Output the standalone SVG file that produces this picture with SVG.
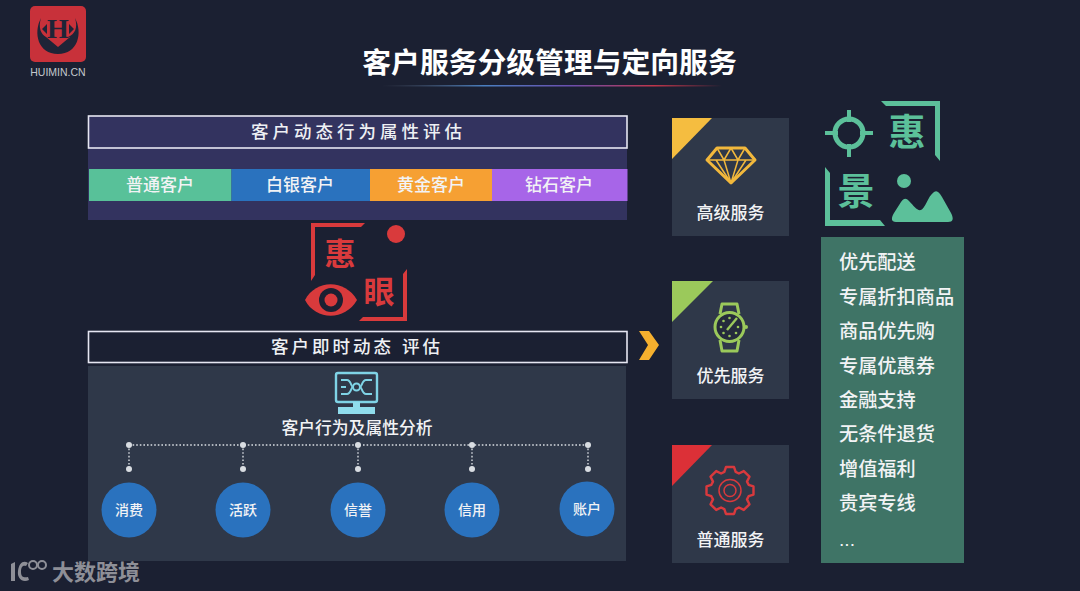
<svg xmlns="http://www.w3.org/2000/svg" width="1080" height="591" viewBox="0 0 1080 591">
<style>
text{font-family:"Liberation Sans","Noto Sans CJK SC",sans-serif;text-anchor:middle;fill:#f2f3f5}
.t18{font-size:17px;font-weight:500}
.hd{font-size:17.5px;fill:#eef0f4;font-weight:500}
.card{fill:#2f3849}
.lst{font-size:19.2px;text-anchor:start;font-weight:500}
.circ{fill:#2a72be}
.cl{font-size:14px;font-weight:500}
.dot{fill:#d9dde2}
.dl{stroke:#d9dde2;stroke-width:1.4;stroke-dasharray:1.6 2;fill:none}
.red{fill:#d93a3c}
.grn{fill:#5cc09a}
.big{font-weight:700;font-size:31px}
</style>
<defs>
<linearGradient id="ul" x1="0" x2="1" y1="0" y2="0">
<stop offset="0" stop-color="#5a6272" stop-opacity="0"/>
<stop offset=".3" stop-color="#4a7fc0"/>
<stop offset=".55" stop-color="#6a4fb0"/>
<stop offset=".8" stop-color="#c0354a"/>
<stop offset="1" stop-color="#c0354a" stop-opacity="0"/>
</linearGradient>
</defs>
<rect width="1080" height="591" fill="#1b2032"/>
<g id="logo">
<rect x="30" y="6" width="56" height="56" rx="5" fill="#c8313a"/>
<path d="M41 18C33 33 38 54 58 54C78 54 83 33 75 18C78 28 75 34 68 37L70 37L58 47L46 37C41 34 38 28 41 18Z" fill="#1f2437"/>
<path d="M42 29L47 24V34ZM74 29L69 24V34Z" fill="#1f2437"/>
<text x="58" y="38" font-size="28" style="font-family:'Liberation Serif',serif;fill:#1f2437" font-weight="700">H</text>
<text x="58" y="76" font-size="10.500" style="fill:#c4c8ce">HUIMIN.CN</text>
</g>
<g id="title">
<text x="549.500" y="73" font-size="28.800" font-weight="700" style="fill:#fff">客户服务分级管理与定向服务</text>
<rect x="382" y="85" width="340" height="1.500" fill="url(#ul)"/>
</g>
<g id="dynamic-panel">
<rect x="88" y="116" width="539" height="104" fill="#33335f"/>
<rect x="88.500" y="116" width="538.500" height="32" fill="#33335f" stroke="#e6e6f2" stroke-width="1.600"/>
<text x="358.500" y="138" class="hd" letter-spacing="4">客户动态行为属性评估</text>
</g>
<g id="tier-normal"><rect x="89" y="169" width="142.500" height="32" fill="#58c199"/><text x="160" y="191" class="t18">普通客户</text></g>
<g id="tier-silver"><rect x="231.500" y="169" width="138.500" height="32" fill="#2a72be"/><text x="300" y="191" class="t18">白银客户</text></g>
<g id="tier-gold"><rect x="370" y="169" width="122" height="32" fill="#f6a033"/><text x="431" y="191" class="t18">黄金客户</text></g>
<g id="tier-diamond"><rect x="492" y="169" width="135.500" height="32" fill="#a765e8"/><text x="559" y="191" class="t18">钻石客户</text></g>
<g id="huiyan">
<path d="M311 223H365L361 227H315V275L311 281Z" class="red"/>
<path d="M407 269V321H359L363 317H403V274Z" class="red"/>
<circle cx="396" cy="234" r="9" class="red"/>
<path d="M305 300C316 279 345 279 357 300C345 321 316 321 305 300Z" class="red"/>
<circle cx="331" cy="300" r="12" fill="#1b2032"/><circle cx="331" cy="300" r="6.500" class="red"/>
<text x="340" y="265" class="big" style="fill:#d93a3c">惠</text>
<text x="379" y="303" class="big" style="fill:#d93a3c">眼</text>
</g>
<g id="realtime-header">
<rect x="88.500" y="331.500" width="538.500" height="31" fill="#1b2032" stroke="#e6e6f2" stroke-width="1.600"/>
<text x="357" y="353" class="hd" letter-spacing="3">客户即时动态 评估</text>
</g>
<g id="analysis-panel">
<rect x="88" y="366" width="538" height="195" fill="#2f3849"/>
<g fill="none" stroke="#7fd3e6" stroke-width="2">
<rect x="336" y="373" width="41" height="29" rx="2" stroke-width="2.400"/>
<path d="M341 380H347C351 380 351 387 353 387M372 380H366C362 380 362 387 360 387M341 394H347C351 394 351 387 353 387M372 394H366C362 394 362 387 360 387M341 387H346"/>
<circle cx="356.500" cy="387" r="3.500"/>
</g>
<path d="M353 402H360V407H353ZM338 407H375V414H338Z" fill="#8fdcec"/>
<text x="357" y="434" font-size="16.800" font-weight="500">客户行为及属性分析</text>
</g>
<g id="connectors">
<path class="dl" d="M129 445H588M129 445V469M243 445V469M358 445V469M472 445V469M588 445V469"/>
<g class="dot">
<circle cx="129" cy="445" r="3"/><circle cx="243" cy="445" r="3"/><circle cx="358" cy="445" r="3"/><circle cx="472" cy="445" r="3"/><circle cx="588" cy="445" r="3"/>
<circle cx="129" cy="469" r="3"/><circle cx="243" cy="469" r="3"/><circle cx="358" cy="469" r="3"/><circle cx="472" cy="469" r="3"/><circle cx="588" cy="469" r="3"/>
</g>
</g>
<g id="node-consume"><circle cx="129" cy="510" r="27.500" class="circ"/><text x="129" y="515" class="cl">消费</text></g>
<g id="node-active"><circle cx="243" cy="510" r="27.500" class="circ"/><text x="243" y="515" class="cl">活跃</text></g>
<g id="node-reputation"><circle cx="358" cy="510" r="27.500" class="circ"/><text x="358" y="515" class="cl">信誉</text></g>
<g id="node-credit"><circle cx="472" cy="510" r="27.500" class="circ"/><text x="472" y="515" class="cl">信用</text></g>
<g id="node-account"><circle cx="587" cy="509" r="27.500" class="circ"/><text x="587" y="514" class="cl">账户</text></g>
<path id="chevron" d="M639 331H649L659 345L649 360H639L648 345Z" fill="#f6b02e"/>
<g id="service-high">
<rect x="672" y="118" width="117" height="118" class="card"/>
<path d="M672 118H712L672 159Z" fill="#f5bd40"/>
<g fill="none" stroke="#f2b83c" stroke-linejoin="round">
<path d="M717 148H745L755 160L731 183L707 160Z" stroke-width="3"/>
<path d="M707 160H755M717 148L724 160L731 148L738 160L745 148M724 160L731 183L738 160M716 160L731 183M746 160L731 183" stroke-width="1.500"/>
</g>
<text x="730.500" y="219" class="t18">高级服务</text>
</g>
<g id="service-priority">
<rect x="672" y="281" width="117" height="118" class="card"/>
<path d="M672 281H713L672 322Z" fill="#9bc95b"/>
<g fill="none" stroke="#9bc95b" stroke-width="3" stroke-linejoin="round">
<path d="M720 314L722 304H737L739 314M720 340L722 351H737L739 340"/>
<circle cx="729.500" cy="327" r="14.500" fill="#252b3c"/>
</g>
<path d="M727 330L737 318" stroke="#9bc95b" stroke-width="2.400"/>
<circle cx="746" cy="327" r="2" fill="#9bc95b"/>
<g fill="#9bc95b"><circle cx="729.500" cy="318" r="1.300"/><circle cx="721" cy="327" r="1.300"/><circle cx="738" cy="327" r="1.300"/><circle cx="729.500" cy="336" r="1.300"/><circle cx="723.500" cy="321" r="1.300"/><circle cx="723.500" cy="333" r="1.300"/><circle cx="736" cy="333" r="1.300"/></g>
<text x="730.500" y="382" class="t18">优先服务</text>
</g>
<g id="service-normal">
<rect x="672" y="445" width="117" height="118" class="card"/>
<path d="M672 445H712L672 486Z" fill="#dc3037"/>
<g fill="none" stroke="#d9393d">
<path stroke-width="3" stroke-linejoin="round" d="M725 461H735L737 467L741 469L747 466L754 473L751 479L753 483L759 485V495L753 497L751 501L754 507L747 514L741 511L737 513L735 519H725L723 513L719 511L713 514L706 507L709 501L707 497L701 495V485L707 483L709 479L706 473L713 466L719 469L723 467Z" transform="translate(730 490.500) scale(.81) translate(-730 -490)"/>
<circle cx="730" cy="490.500" r="11" stroke-width="1.500"/>
<circle cx="730" cy="490.500" r="6" stroke-width="1.500"/>
</g>
<text x="730.500" y="546" class="t18">普通服务</text>
</g>
<g id="huijing">
<path d="M881 101H940V161L935 155V106H886Z" class="grn"/>
<path d="M825 167L830 173V220H880L885 226H825Z" class="grn"/>
<circle cx="849" cy="133" r="14" fill="none" stroke="#5cc09a" stroke-width="5"/>
<path d="M847 110H851V122H847ZM847 144H851V157H847ZM825 131H838V135H825ZM860 131H873V135H860Z" class="grn"/>
<circle cx="904" cy="181" r="7" class="grn"/>
<path d="M896 222C891 222 891 218 894 213L901 202C904 198 906 198 909 201C914 206 917 211 921 210C925 209 928 196 934 192C937 190 939 192 942 197L951 213C954 219 953 222 948 222Z" class="grn"/>
<text x="907" y="146" class="big" style="fill:#5cc09a;font-size:37px">惠</text>
<text x="856" y="205" class="big" style="fill:#5cc09a;font-size:37px">景</text>
</g>
<g id="benefits">
<rect x="821" y="237" width="143" height="326" fill="#3f7466"/>
<text x="839" y="268.500" class="lst">优先配送</text>
<text x="839" y="303.500" class="lst">专属折扣商品</text>
<text x="839" y="338" class="lst">商品优先购</text>
<text x="839" y="372.500" class="lst">专属优惠券</text>
<text x="839" y="406.500" class="lst">金融支持</text>
<text x="839" y="441" class="lst">无条件退货</text>
<text x="839" y="475.500" class="lst">增值福利</text>
<text x="839" y="510" class="lst">贵宾专线</text>
<text x="839" y="546" class="lst">...</text>
</g>
<g id="watermark" opacity=".9">
<path d="M11 564L15 562V581H11ZM18 571C19 562 24 560 28 563L26 566C22 565 21 568 21 572C21 577 24 578 28 577L29 580C22 583 17 578 18 571Z" fill="#9b9ca3"/>
<circle cx="33" cy="565" r="4" fill="none" stroke="#9b9ca3" stroke-width="2"/><circle cx="42" cy="565" r="4" fill="none" stroke="#9b9ca3" stroke-width="2"/>
<text x="96" y="580" font-size="22" font-weight="700" style="fill:#9b9ca3">大数跨境</text>
</g>
</svg>
